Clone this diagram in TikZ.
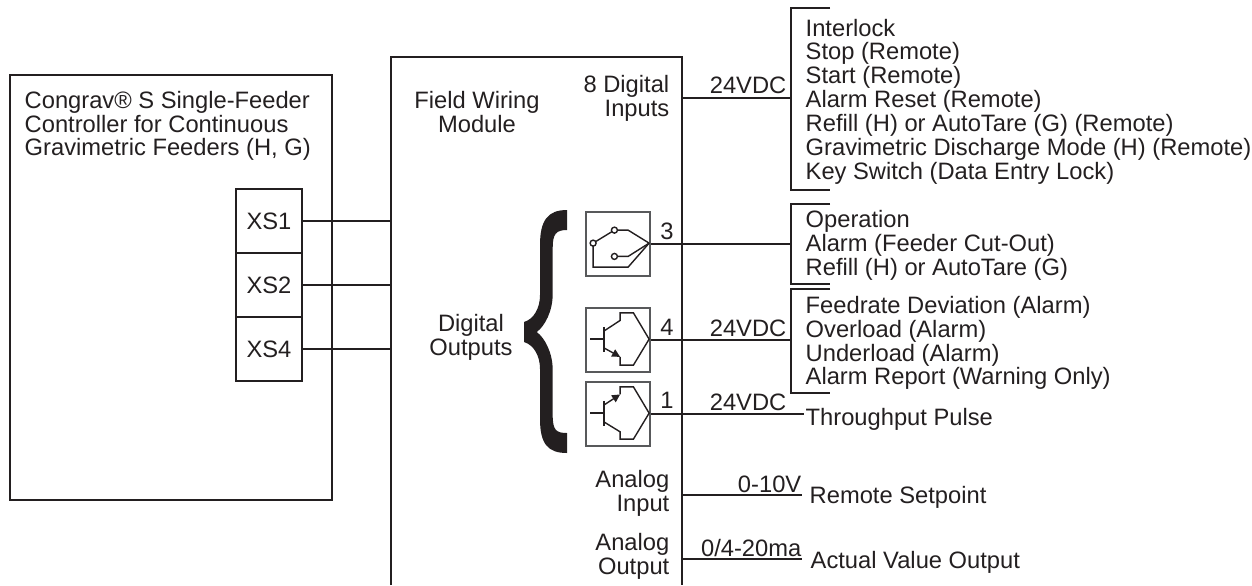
\documentclass[tikz,border=0pt]{standalone}
\usepackage{fontspec}
\setmainfont{Liberation Sans}
\usetikzlibrary{arrows.meta}
\definecolor{ink}{HTML}{231F20}
\definecolor{boxgray}{HTML}{58595B}
\tikzset{
  txt/.style={text=ink, inner sep=0pt, font=\fontsize{6.75}{6.78}\selectfont},
  lefttxt/.style={txt, align=left, anchor=west},
  righttxt/.style={txt, align=right, anchor=east},
  volt/.style={txt, anchor=south east},
  wire/.style={draw=ink, line width=0.4pt},
  heavy/.style={draw=ink, line width=0.7pt},
  xsbox/.style={draw=ink, line width=0.35pt, minimum width=0.66cm, minimum height=0.64cm, inner sep=0pt, txt},
  outbox/.style={draw=boxgray, line width=0.5pt, minimum width=0.64cm, minimum height=0.64cm, inner sep=0pt},
  contact/.style={draw=ink, line width=0.4pt, fill=white, circle, inner sep=0pt, minimum size=0.06cm}
}
\begin{document}
\begin{tikzpicture}[x=1cm,y=1cm]
\useasboundingbox (0,0) rectangle (12.52,-5.85);

% controller
\node[heavy, draw, minimum width=3.22cm, minimum height=4.25cm, inner sep=0pt] (ctrl) at (1.71,-2.875) {};
\node[lefttxt] (ctrltxt) at (0.24,-1.26) {Congrav\textregistered{} S Single-Feeder\\Controller for Continuous\\Gravimetric Feeders (H, G)};
\node[xsbox] (xsone) at (2.69,-2.21) {XS1};
\node[xsbox] (xstwo) at (2.69,-2.85) {XS2};
\node[xsbox] (xsfour) at (2.69,-3.49) {XS4};

% field wiring module
\coordinate (fwl) at (3.91,-5.85);
\coordinate (fwr) at (6.82,-5.85);
\draw[heavy] (fwl) -- (3.91,-0.57) -- (6.82,-0.57) -- (fwr);
\node[txt, align=center] (fwtxt) at (4.77,-1.12) {Field Wiring\\Module};
\node[righttxt] (ditxt) at (6.70,-0.98) {8 Digital\\Inputs};
\node[txt, align=center] (dotxt) at (4.71,-3.37) {Digital\\Outputs};
\node[righttxt] (aitxt) at (6.70,-4.93) {Analog\\Input};
\node[righttxt] (aotxt) at (6.70,-5.56) {Analog\\Output};

\draw[wire] (xsone) -- (xsone -| fwl);
\draw[wire] (xstwo) -- (xstwo -| fwl);
\draw[wire] (xsfour) -- (xsfour -| fwl);

% brace
\fill[ink] (5.67,-2.10) .. controls (5.48,-2.10) and (5.40,-2.20) .. (5.40,-2.45)
  -- (5.40,-2.95) .. controls (5.40,-3.08) and (5.34,-3.19) .. (5.24,-3.22)
  -- (5.24,-3.42) .. controls (5.34,-3.45) and (5.40,-3.56) .. (5.40,-3.69)
  -- (5.40,-4.19) .. controls (5.40,-4.44) and (5.48,-4.53) .. (5.67,-4.53)
  -- (5.67,-4.33) .. controls (5.56,-4.33) and (5.527,-4.30) .. (5.527,-4.15)
  -- (5.527,-3.70) .. controls (5.527,-3.53) and (5.45,-3.38) .. (5.367,-3.32)
  .. controls (5.45,-3.26) and (5.527,-3.11) .. (5.527,-2.94)
  -- (5.527,-2.48) .. controls (5.527,-2.34) and (5.56,-2.30) .. (5.67,-2.30) -- cycle;

% output boxes
\node[outbox] (relay) at (6.18,-2.44) {};
\node[outbox] (trfour) at (6.18,-3.40) {};
\node[outbox] (trone) at (6.18,-4.14) {};
\node[txt] (nthree) at (6.67,-2.31) {3};
\node[txt] (nfour) at (6.67,-3.27) {4};
\node[txt] (none) at (6.67,-4.00) {1};

% relay symbol
\begin{scope}[shift={(relay.north west)}]
\draw[wire] (0.293,-0.19) -- (0.43,-0.19) -- (0.64,-0.32);
\draw[wire] (0.293,-0.453) -- (0.43,-0.453) -- (0.64,-0.32);
\draw[wire] (0.08,-0.32) -- (0.293,-0.19);
\draw[wire] (0.08,-0.32) -- (0.08,-0.56) -- (0.43,-0.56) -- (0.64,-0.32);
\node[contact] (ca) at (0.08,-0.32) {};
\node[contact] (cb) at (0.293,-0.19) {};
\node[contact] (cc) at (0.293,-0.453) {};
\end{scope}

% transistor symbols
\begin{scope}[shift={(trfour.north west)}]
\draw[wire] (0.053,-0.32) -- (0.187,-0.32);
\draw[wire] (0.187,-0.197) -- (0.187,-0.45);
\draw[wire] (0.187,-0.24) -- (0.35,-0.133) -- (0.35,-0.057) -- (0.483,-0.057) -- (0.64,-0.32) -- (0.483,-0.58) -- (0.35,-0.58) -- (0.35,-0.497);
\draw[wire, -{Triangle[length=0.08cm,width=0.08cm]}] (0.187,-0.407) -- (0.35,-0.497);
\end{scope}
\begin{scope}[shift={(trone.north west)}]
\draw[wire] (0.053,-0.32) -- (0.187,-0.32);
\draw[wire] (0.187,-0.197) -- (0.187,-0.45);
\draw[wire] (0.187,-0.407) -- (0.35,-0.507) -- (0.35,-0.58) -- (0.483,-0.58) -- (0.64,-0.32) -- (0.483,-0.057) -- (0.35,-0.057) -- (0.35,-0.133);
\draw[wire, -{Triangle[length=0.08cm,width=0.08cm]}] (0.187,-0.24) -- (0.35,-0.133);
\end{scope}

% right side lists
\coordinate (brka) at (7.91,-0.98);
\coordinate (brkb) at (7.91,-2.44);
\coordinate (brkc) at (7.91,-3.40);
\draw[wire] (8.30,-0.08) -- (7.91,-0.08) -- (7.91,-1.90) -- (8.30,-1.90);
\draw[wire] (8.30,-2.04) -- (7.91,-2.04) -- (7.91,-2.84) -- (8.30,-2.84);
\draw[wire] (8.30,-2.89) -- (7.91,-2.89) -- (7.91,-3.93) -- (8.30,-3.93);
\node[lefttxt] (inlist) at (8.05,-1.015) {Interlock\\Stop (Remote)\\Start (Remote)\\Alarm Reset (Remote)\\Refill (H) or AutoTare (G) (Remote)\\Gravimetric Discharge Mode (H) (Remote)\\Key Switch (Data Entry Lock)};
\node[lefttxt] (rellist) at (8.05,-2.455) {Operation\\Alarm (Feeder Cut-Out)\\Refill (H) or AutoTare (G)};
\node[lefttxt] (trlist) at (8.05,-3.43) {Feedrate Deviation (Alarm)\\Overload (Alarm)\\Underload (Alarm)\\Alarm Report (Warning Only)};
\node[lefttxt] (pulse) at (8.05,-4.19) {Throughput Pulse};
\node[lefttxt] (setpt) at (8.09,-4.97) {Remote Setpoint};
\node[lefttxt] (actval) at (8.10,-5.62) {Actual Value Output};

% connectors
\coordinate (pulseend) at (8.04,-4.14);
\draw[wire] (6.82,-0.98) -- (brka) node[volt, pos=1, xshift=-0.04cm, yshift=0.04cm] (va) {24VDC};
\draw[wire] (relay.east) -- (brkb);
\draw[wire] (trfour.east) -- (brkc) node[volt, pos=1, xshift=-0.04cm, yshift=0.03cm] (vb) {24VDC};
\draw[wire] (trone.east) -- (pulseend) node[volt, pos=1, xshift=-0.17cm, yshift=0.03cm] (vc) {24VDC};
\coordinate (aiend) at (8.02,-4.95);
\coordinate (aoend) at (8.02,-5.59);
\draw[wire] (6.82,-4.95) -- (aiend) node[volt, pos=1, yshift=0.02cm] (vd) {0-10V};
\draw[wire] (6.82,-5.59) -- (aoend) node[volt, pos=1, yshift=0.02cm] (ve) {0/4-20ma};
\end{tikzpicture}
\end{document}
